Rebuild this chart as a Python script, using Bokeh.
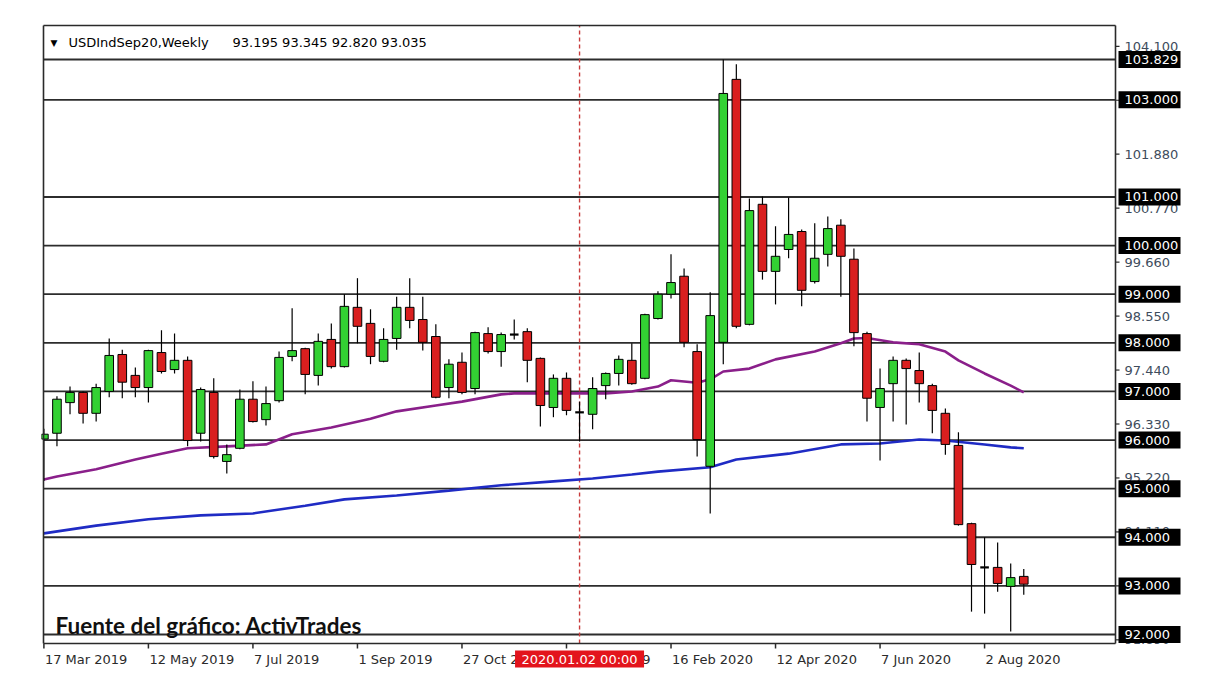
import pandas as pd
from bokeh.plotting import figure
from bokeh.models import Range1d, Label
from bokeh.embed import file_html
from bokeh.resources import INLINE
from bokeh.core.properties import value

# ---------------- data ----------------
symbol = "USDIndSep20,Weekly"
first_week = "2019-03-17"
opens = [96.02, 96.14, 96.77, 96.98, 96.55, 97.00, 97.76, 97.33, 97.08, 97.80,
         97.45, 97.64, 96.14, 96.98, 95.56, 95.83, 96.84, 96.42, 96.81, 97.72,
         97.88, 97.33, 98.07, 97.51, 98.73, 98.40, 97.62, 98.09, 98.73, 98.48,
         98.13, 97.08, 97.60, 97.06, 98.19, 97.82, 98.17, 98.23, 97.68, 96.67,
         97.27, 96.57, 96.53, 97.12, 97.37, 97.64, 97.27, 98.50, 99.00, 99.37,
         97.82, 95.46, 98.01, 103.42, 98.38, 100.85, 99.47, 99.92, 100.29, 99.26,
         99.82, 100.42, 99.72, 98.19, 96.67, 97.16, 97.64, 97.43, 97.12, 96.55,
         95.89, 94.28, 93.38, 93.38, 92.99, 93.195]
highs = [96.23, 96.90, 97.10, 97.00, 97.16, 98.09, 97.86, 97.49, 97.86, 98.26,
         98.19, 97.72, 97.08, 97.27, 95.91, 97.04, 97.21, 97.10, 97.82, 98.71,
         97.90, 98.19, 98.40, 99.00, 99.33, 98.69, 98.30, 98.95, 99.33, 98.95,
         98.38, 97.66, 97.80, 98.23, 98.32, 98.21, 98.48, 98.30, 97.70, 97.35,
         97.39, 96.79, 97.29, 97.39, 97.74, 97.99, 98.60, 99.06, 99.82, 99.53,
         97.97, 99.04, 103.829, 103.73, 100.97, 101.01, 100.40, 100.99, 100.33, 100.46,
         100.60, 100.54, 99.94, 98.23, 97.47, 97.72, 97.68, 97.80, 97.16, 96.65,
         96.16, 94.30, 94.00, 93.89, 93.46, 93.345]
lows = [95.16, 95.87, 96.53, 96.34, 96.38, 96.88, 96.86, 96.88, 96.77, 97.37,
        97.37, 95.87, 95.97, 95.62, 95.31, 95.81, 96.36, 96.30, 96.77, 97.62,
        96.94, 97.12, 97.47, 97.49, 97.99, 97.56, 97.60, 97.86, 98.30, 97.84,
        96.86, 96.86, 96.94, 96.94, 97.78, 97.51, 98.07, 97.19, 96.28, 96.47,
        96.51, 95.97, 96.22, 96.84, 97.12, 97.14, 97.25, 98.48, 98.91, 97.91,
        95.66, 94.49, 97.56, 98.30, 98.36, 99.30, 98.79, 99.74, 98.75, 99.22,
        99.57, 98.95, 97.93, 96.38, 95.58, 96.38, 96.32, 96.77, 96.14, 95.70,
        94.24, 92.47, 92.43, 92.88, 92.06, 92.820]
closes = [96.12, 96.84, 96.98, 96.55, 97.08, 97.74, 97.19, 97.08, 97.84, 97.41,
          97.64, 95.99, 97.04, 95.66, 95.70, 96.84, 96.38, 96.75, 97.70, 97.84,
          97.35, 98.03, 97.51, 98.75, 98.34, 97.72, 98.07, 98.73, 98.46, 98.01,
          96.88, 97.56, 96.98, 98.21, 97.82, 98.17, 98.17, 97.64, 96.71, 97.27,
          96.61, 96.57, 97.06, 97.37, 97.66, 97.16, 98.58, 99.00, 99.24, 98.01,
          96.01, 98.56, 103.13, 98.34, 100.72, 99.47, 99.78, 100.23, 99.08, 99.74,
          100.35, 99.78, 98.21, 96.86, 97.06, 97.64, 97.47, 97.16, 96.61, 95.91,
          94.26, 93.44, 93.38, 93.05, 93.17, 93.035]

# moving averages (candle index, value)
ma_purple_idx = [0, 1, 4, 7, 9, 11, 14, 17, 19, 22, 25, 27, 30, 32, 35, 36, 43, 45,
                 47, 48, 50, 51, 52, 54, 56, 59, 61, 62, 63, 65, 67, 69, 70, 72, 74, 75]
ma_purple = [95.19, 95.25, 95.40, 95.60, 95.72, 95.83, 95.87, 95.91, 96.12, 96.26,
             96.44, 96.59, 96.71, 96.79, 96.94, 96.96, 96.96, 97.00, 97.10, 97.23,
             97.18, 97.25, 97.41, 97.47, 97.66, 97.82, 97.99, 98.09, 98.10, 98.01,
             97.97, 97.82, 97.64, 97.37, 97.12, 96.98]
ma_blue_idx = [0, 4, 8, 12, 16, 20, 23, 27, 31, 35, 39, 42, 45, 47, 51, 53, 57, 61,
               64, 67, 69, 72, 74, 75]
ma_blue = [94.08, 94.24, 94.37, 94.45, 94.49, 94.65, 94.78, 94.86, 94.96, 95.07,
           95.15, 95.21, 95.29, 95.35, 95.44, 95.60, 95.72, 95.91, 95.93, 96.01,
           95.99, 95.91, 95.85, 95.83]

levels = [103.829, 103.0, 101.0, 100.0, 99.0, 98.0, 97.0, 96.0, 95.0, 94.0, 93.0, 92.0]
price_ticks = [91.890, 93.000, 94.110, 95.220, 96.330, 97.440, 98.550, 99.660,
               100.770, 101.880, 102.990, 104.100]
date_labels = ["17 Mar 2019", "12 May 2019", "7 Jul 2019", "1 Sep 2019", "27 Oct 2019",
               "22 Dec 2019", "16 Feb 2020", "12 Apr 2020", "7 Jun 2020", "2 Aug 2020"]
cursor_index = 41
cursor_label = "2020.01.02 00:00"
source_text = "Fuente del gráfico: ActivTrades"

# ---------------- derived ----------------
n = len(opens)
weeks = pd.date_range(first_week, periods=n, freq="W-SUN")
week_str = [f"{d.day} {d.strftime('%b %Y')}" for d in weeks]
tick_idx = [week_str.index(s) for s in date_labels]
idx = list(range(n))
up = [i for i in idx if closes[i] > opens[i]]
dn = [i for i in idx if closes[i] < opens[i]]
dj = [i for i in idx if closes[i] == opens[i]]

# ---------------- scales / layout ----------------
W, H = 1208, 686
PX_X = 13.065          # pixels per weekly bar
PX_Y = 48.61           # pixels per price unit
FRAME_L, FRAME_T = 41, 23
CHART_L, CHART_T, CHART_R, CHART_B = 43, 25, 1115, 643   # MT4 chart window (px)

x_left = -0.03
y_top = 104.528
def xv(px):  # pixel column -> bar index
    return x_left + (px - CHART_L) / PX_X
def yv(py):  # pixel row -> price
    return y_top - (py - CHART_T) / PX_Y

x_right = xv(CHART_R)
y_bottom = yv(CHART_B)

p = figure(width=W, height=H, output_backend="svg", toolbar_location=None,
           x_range=Range1d(xv(FRAME_L), xv(W)), y_range=Range1d(yv(H), yv(FRAME_T)),
           x_axis_location=None, y_axis_location=None,
           min_border_left=FRAME_L, min_border_top=FRAME_T,
           min_border_right=0, min_border_bottom=0)
p.xgrid.visible = False
p.ygrid.visible = False
p.outline_line_color = None
p.background_fill_color = "white"
p.border_fill_color = "white"

FRAME = "#2a2a2a"
GREEN = "#33d133"
RED = "#d91f1f"
FONT = value("DejaVu Sans")

# level lines (horizontal lines of the chart)
p.segment(x0=[x_left] * len(levels), x1=[x_right] * len(levels), y0=levels, y1=levels,
          line_color="#2c2c2c", line_width=1.8)

# cursor line
p.segment(x0=[cursor_index], x1=[cursor_index], y0=[y_bottom], y1=[y_top],
          line_color="#c83c3c", line_width=1.4, line_dash="4 3")

# moving averages
p.line(ma_purple_idx, ma_purple, line_color="#8a1f8a", line_width=2.6)
p.line(ma_blue_idx, ma_blue, line_color="#1f2bc4", line_width=2.6)

# candles
p.segment(x0=idx, y0=lows, x1=idx, y1=highs, line_color="black", line_width=1.2)
p.vbar(x=up, bottom=[opens[i] for i in up], top=[closes[i] for i in up],
       width=0.66, fill_color=GREEN, line_color="black", line_width=1)
p.vbar(x=dn, bottom=[closes[i] for i in dn], top=[opens[i] for i in dn],
       width=0.66, fill_color=RED, line_color="black", line_width=1)
p.segment(x0=[i - 0.33 for i in dj], y0=[opens[i] for i in dj],
          x1=[i + 0.33 for i in dj], y1=[closes[i] for i in dj],
          line_color="black", line_width=2.2)

# chart window border
p.segment(x0=[x_left, x_left, x_right, x_left], x1=[x_left, x_right, x_right, x_right],
          y0=[y_bottom, y_top, y_bottom, y_bottom], y1=[y_top, y_top, y_top, y_bottom],
          line_color=FRAME, line_width=1.6)

# right price scale: ticks + labels
p.segment(x0=[x_right] * len(price_ticks), x1=[x_right + 4 / PX_X] * len(price_ticks),
          y0=price_ticks, y1=price_ticks, line_color=FRAME, line_width=1.2)
p.text(x=[x_right + 9 / PX_X] * len(price_ticks), y=price_ticks,
       text=[f"{t:.3f}" for t in price_ticks], text_font=FONT, text_font_size="13px",
       text_color="#3e4c5c", text_align="left", text_baseline="middle")

# price level boxes
p.rect(x=[x_right + 34 / PX_X] * len(levels), y=levels, width=62, height=17,
       width_units="screen", height_units="screen", fill_color="black", line_color=None)
p.text(x=[x_right + 9 / PX_X] * len(levels), y=levels,
       text=[f"{lv:.3f}" for lv in levels], text_font=FONT, text_font_size="13px",
       text_color="white", text_align="left", text_baseline="middle")

# time scale: ticks + left-aligned labels
p.segment(x0=tick_idx, x1=tick_idx, y0=[y_bottom] * len(tick_idx),
          y1=[y_bottom - 5 / PX_Y] * len(tick_idx), line_color=FRAME, line_width=1.5)
p.text(x=[t + 1 / PX_X for t in tick_idx], y=[yv(659)] * len(tick_idx), text=date_labels,
       text_font=FONT, text_font_size="13px", text_color="#2b2b2b",
       text_align="left", text_baseline="middle")

# cursor time box
p.rect(x=[cursor_index], y=[yv(658.5)], width=129, height=17, width_units="screen",
       height_units="screen", fill_color="#e3141c", line_color=None)
p.text(x=[cursor_index], y=[yv(658.5)], text=[cursor_label], text_font=FONT,
       text_font_size="13px", text_color="white", text_align="center",
       text_baseline="middle")

# header
p.add_layout(Label(x=xv(50), y=yv(42), text="▼", text_font="DejaVu Sans",
                   text_font_size="9px", text_color="black",
                   text_baseline="middle", text_align="left"))
p.add_layout(Label(x=xv(68), y=yv(42), text=symbol, text_font="DejaVu Sans",
                   text_font_size="13px", text_color="black",
                   text_baseline="middle", text_align="left"))
ohlc = f"{opens[-1]:.3f} {highs[-1]:.3f} {lows[-1]:.3f} {closes[-1]:.3f}"
p.add_layout(Label(x=xv(232), y=yv(42), text=ohlc, text_font="DejaVu Sans",
                   text_font_size="13px", text_color="black",
                   text_baseline="middle", text_align="left"))

# source caption
p.add_layout(Label(x=xv(55), y=yv(624.5), text=source_text, text_font="Lato",
                   text_font_style="bold", text_font_size="22.5px", text_color="#111111",
                   text_baseline="alphabetic", text_align="left"))

open("out.html", "w").write(file_html(p, INLINE))
